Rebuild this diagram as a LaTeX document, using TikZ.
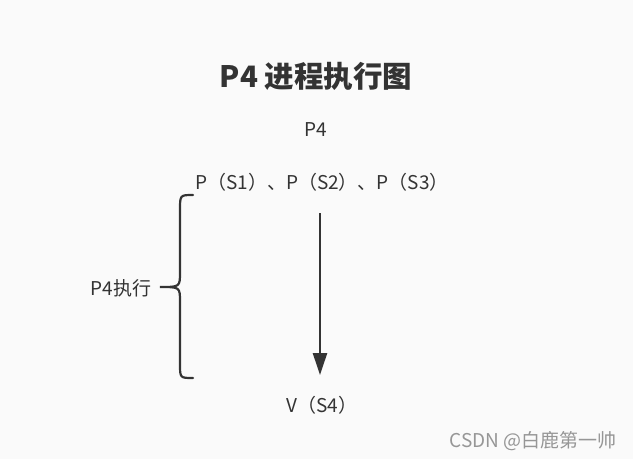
\documentclass[tikz,border=0pt]{standalone}
\usepackage{fontspec}
\setmainfont{Noto Sans CJK SC}
\usetikzlibrary{arrows.meta}
\definecolor{txt}{HTML}{333333}
\tikzset{lbl/.style={text=txt,font=\fontsize{19}{22}\selectfont,inner sep=0pt}}
\begin{document}
\begin{tikzpicture}[x=1pt,y=-1pt]
\fill[fill={rgb,255:red,250;green,250;blue,250}] (0,0) rectangle (633,459);
\useasboundingbox (0,0) rectangle (633,459);
\node[text=txt,font=\fontsize{29.5}{33}\selectfont\bfseries,inner sep=0pt] (title) at (316,76) {P4 进程执行图};
\node[lbl] (p4) at (316,130) {P4};
\node[lbl] (ps) at (322,182) {P（S1）、P（S2）、P（S3）};
\node[lbl] (vs) at (322,405) {V（S4）};
\node[lbl] (ex) at (121,288) {P4执行};
\coordinate (a1) at (320,213);
\coordinate (a2) at (320,375);
\draw[line width=2.5pt,draw=txt,-{Triangle[length=22pt,width=14pt]}] (a1) -- (a2);
\coordinate (bt) at (193,195);
\coordinate (bb) at (193,378);
\coordinate (bm) at (160,287);
\draw[line width=2.2pt,draw=txt,line cap=round]
 (bt) .. controls (180,195) .. (180,210) -- (180,272) .. controls (180,287) .. (bm)
 .. controls (180,287) .. (180,302) -- (180,364) .. controls (180,378) .. (bb);
\node[text={rgb,255:red,150;green,150;blue,150},font=\fontsize{19}{22}\selectfont,inner sep=0pt] (wm) at (533,441) {CSDN @白鹿第一帅};
\end{tikzpicture}
\end{document}
